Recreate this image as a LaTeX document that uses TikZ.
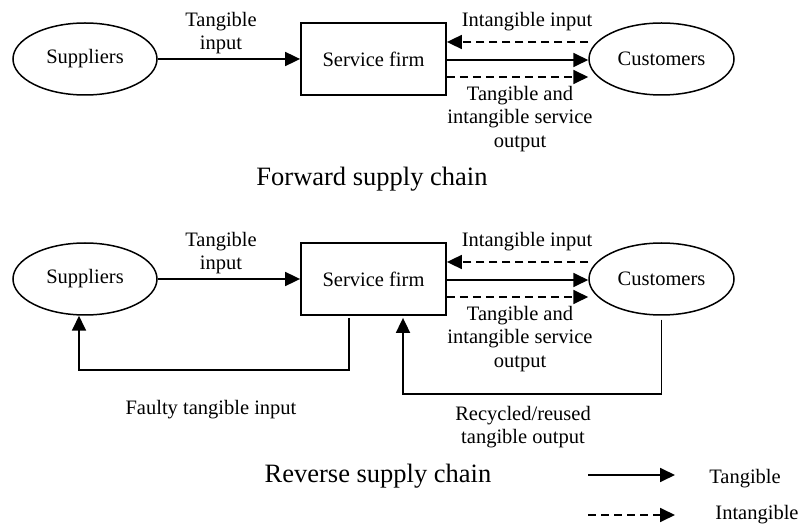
\documentclass[tikz,border=0pt]{standalone}
\usepackage{fontspec}
\setmainfont{Liberation Serif}
\usetikzlibrary{arrows.meta,shapes.geometric}
\tikzset{
  ell/.style={ellipse,draw,line width=1.5pt,minimum width=144pt,minimum height=72pt,inner sep=0pt},
  firmbox/.style={rectangle,draw,line width=1.8pt,minimum width=145pt,minimum height=72pt,inner sep=0pt},
  lbl/.style={align=center,inner sep=0pt,font=\fontsize{20.5}{23.5}\selectfont},
  ttl/.style={inner sep=0pt,font=\fontsize{26.5}{30}\selectfont},
  tang/.style={line width=1.8pt,-{Triangle[length=15pt,width=14pt]}},
  intang/.style={line width=1.8pt,dash pattern=on 8pt off 5pt,-{Triangle[length=15pt,width=14pt]}},
}
\begin{document}
\begin{tikzpicture}[x=1pt,y=-1pt]
\useasboundingbox (0,0) rectangle (803,526);
% ---------- Forward ----------
\node[ell] (sup1) at (85,59) {\fontsize{20.5}{23.5}\selectfont Suppliers};
\node[firmbox] (firm1) at (373.5,59) {\fontsize{20.5}{23.5}\selectfont Service firm};
\node[ell,minimum width=145pt] (cus1) at (661.5,59) {\fontsize{20.5}{23.5}\selectfont Customers};
\draw[tang] (sup1.east) -- (firm1.west);
\draw[intang] ([yshift=17pt]cus1.west) -- ([yshift=17pt]firm1.east);
\draw[tang] ([yshift=-1pt]firm1.east) -- ([yshift=-1pt]cus1.west);
\draw[intang] ([yshift=-18pt]firm1.east) -- ([yshift=-18pt]cus1.west);
\node[lbl] (ti1) at (221,33) {Tangible\\input};
\node[lbl] (ii1) at (527,22) {Intangible input};
\node[lbl] (to1) at (520,119) {Tangible and\\intangible service\\output};
\node[ttl] (fwd) at (372,179) {Forward supply chain};
% ---------- Reverse ----------
\node[ell] (sup2) at (85,279) {\fontsize{20.5}{23.5}\selectfont Suppliers};
\node[firmbox] (firm2) at (373.5,279) {\fontsize{20.5}{23.5}\selectfont Service firm};
\node[ell,minimum width=145pt] (cus2) at (661.5,279) {\fontsize{20.5}{23.5}\selectfont Customers};
\draw[tang] (sup2.east) -- (firm2.west);
\draw[intang] ([yshift=17pt]cus2.west) -- ([yshift=17pt]firm2.east);
\draw[tang] ([yshift=-1pt]firm2.east) -- ([yshift=-1pt]cus2.west);
\draw[intang] ([yshift=-18pt]firm2.east) -- ([yshift=-18pt]cus2.west);
\node[lbl] (ti2) at (221,253) {Tangible\\input};
\node[lbl] (ii2) at (527,242) {Intangible input};
\node[lbl] (to2) at (520,339) {Tangible and\\intangible service\\output};
% feedback loops
\draw[tang] ([xshift=-24.5pt,yshift=-2pt]firm2.south) -- ++(0,52) -| ([xshift=-6pt]sup2.south);
\draw[tang] ([yshift=-4pt]cus2.south) -- ++(0,74) -| ([xshift=29.5pt,yshift=-2pt]firm2.south);
\node[lbl] (fti) at (211,410) {Faulty tangible input};
\node[lbl] (rtu) at (523,427) {Recycled/reused\\tangible output};
\node[ttl] (rev) at (378,476) {Reverse supply chain};
% legend
\coordinate (l1a) at (588,475);
\coordinate (l1b) at (675,475);
\coordinate (l2a) at (588,515);
\coordinate (l2b) at (675,515);
\draw[tang] (l1a) -- (l1b);
\draw[intang] (l2a) -- (l2b);
\node[lbl] (lt) at (745,479) {Tangible};
\node[lbl] (li) at (757,515) {Intangible};
\end{tikzpicture}
\end{document}
